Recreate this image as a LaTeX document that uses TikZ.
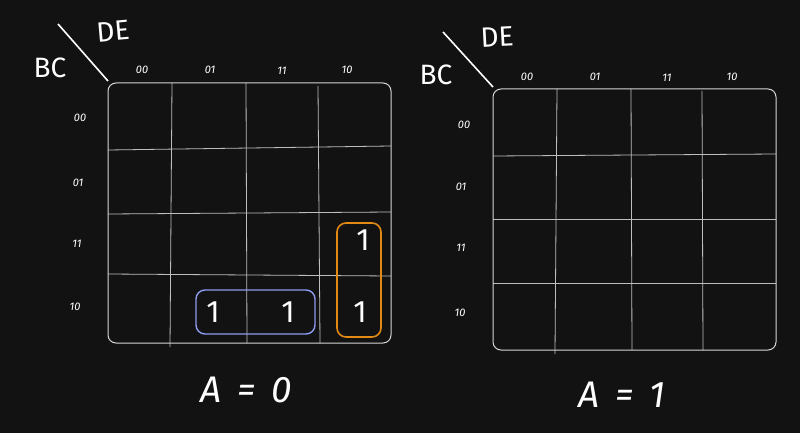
\documentclass[tikz,border=0pt]{standalone}
\usepackage{fontspec}
\setmainfont{Fira Sans}
\definecolor{bg}{HTML}{121212}
\definecolor{gridc}{HTML}{BDBDBD}
\definecolor{framec}{HTML}{D6D6D6}
\definecolor{loopblue}{HTML}{8C9CF0}
\definecolor{loopor}{HTML}{E38A14}
\tikzset{
  frame/.style={draw=framec, line width=1pt, rounded corners=8pt},
  gridl/.style={draw=gridc, line width=0.8pt},
  diag/.style={draw=white, line width=1.6pt},
  lbl/.style={text=white, font=\fontsize{11}{11}\selectfont\itshape, inner sep=0pt},
  big/.style={text=white, font=\fontsize{28}{28}\selectfont, inner sep=0pt},
  one/.style={text=white, font=\fontsize{31}{31}\selectfont, inner sep=0pt},
  eqn/.style={text=white, font=\fontsize{37}{37}\selectfont\itshape, inner sep=0pt},
  bloop/.style={draw=loopblue, line width=1.4pt, rounded corners=9pt},
  oloop/.style={draw=loopor, line width=1.6pt, rounded corners=9pt},
}
\begin{document}
\begin{tikzpicture}[x=1pt, y=-1pt]
\fill[bg] (0,0) rectangle (800,433);
\useasboundingbox (0,0) rectangle (800,433);

% ---------- left map (A = 0) ----------
\coordinate (ld1) at (58,24);
\coordinate (ld2) at (108,81);
\draw[diag] (ld1) -- (ld2);
\node[big, rotate=5] (lDE) at (113,31) {DE};
\node[big] (lBC) at (50,68) {BC};
\node[lbl] (lc1) at (142,70) {00};
\node[lbl] (lc2) at (210,70) {01};
\node[lbl] (lc3) at (282,71) {11};
\node[lbl] (lc4) at (347,70) {10};
\node[lbl] (lr1) at (80,118) {00};
\node[lbl] (lr2) at (78,183) {01};
\node[lbl] (lr3) at (77,244) {11};
\node[lbl] (lr4) at (75,307) {10};
\draw[gridl] (172,83) -- (170,347);
\draw[gridl] (246,83) -- (247,343);
\draw[gridl] (318,86) -- (320,343);
\draw[gridl] (108,150) -- (391,146);
\draw[gridl] (108,214) -- (391,212);
\draw[gridl] (108,274) -- (391,276);
\draw[frame] (108,83) rectangle (391,343);
\draw[bloop] (196,290) rectangle (315,334);
\draw[oloop] (337,223) rectangle (381,337);
\node[one] (l11) at (363,240) {1};
\node[one] (l12) at (213,312) {1};
\node[one] (l13) at (288,312) {1};
\node[one] (l14) at (360,312) {1};
\node[eqn] (lA) at (246,390) {A\hspace{16pt}=\hspace{16pt}0};

% ---------- right map (A = 1) ----------
\coordinate (rd1) at (443,32);
\coordinate (rd2) at (493,87);
\draw[diag] (rd1) -- (rd2);
\node[big, rotate=3] (rDE) at (497,37) {DE};
\node[big] (rBC) at (436,75) {BC};
\node[lbl] (rc1) at (527,77) {00};
\node[lbl] (rc2) at (595,77) {01};
\node[lbl] (rc3) at (667,78) {11};
\node[lbl] (rc4) at (732,77) {10};
\node[lbl] (rr1) at (464,125) {00};
\node[lbl] (rr2) at (461,187) {01};
\node[lbl] (rr3) at (461,248) {11};
\node[lbl] (rr4) at (460,313) {10};
\draw[gridl] (557,89) -- (555,354);
\draw[gridl] (631,89) -- (632,350);
\draw[gridl] (702,91) -- (703,350);
\draw[gridl] (493,156) -- (776,154);
\draw[gridl] (493,219) -- (776,219);
\draw[gridl] (493,283) -- (776,283);
\draw[frame] (493,89) rectangle (776,350);
\node[eqn] (rA) at (622,395) {A\hspace{16pt}=\hspace{16pt}1};
\end{tikzpicture}
\end{document}
